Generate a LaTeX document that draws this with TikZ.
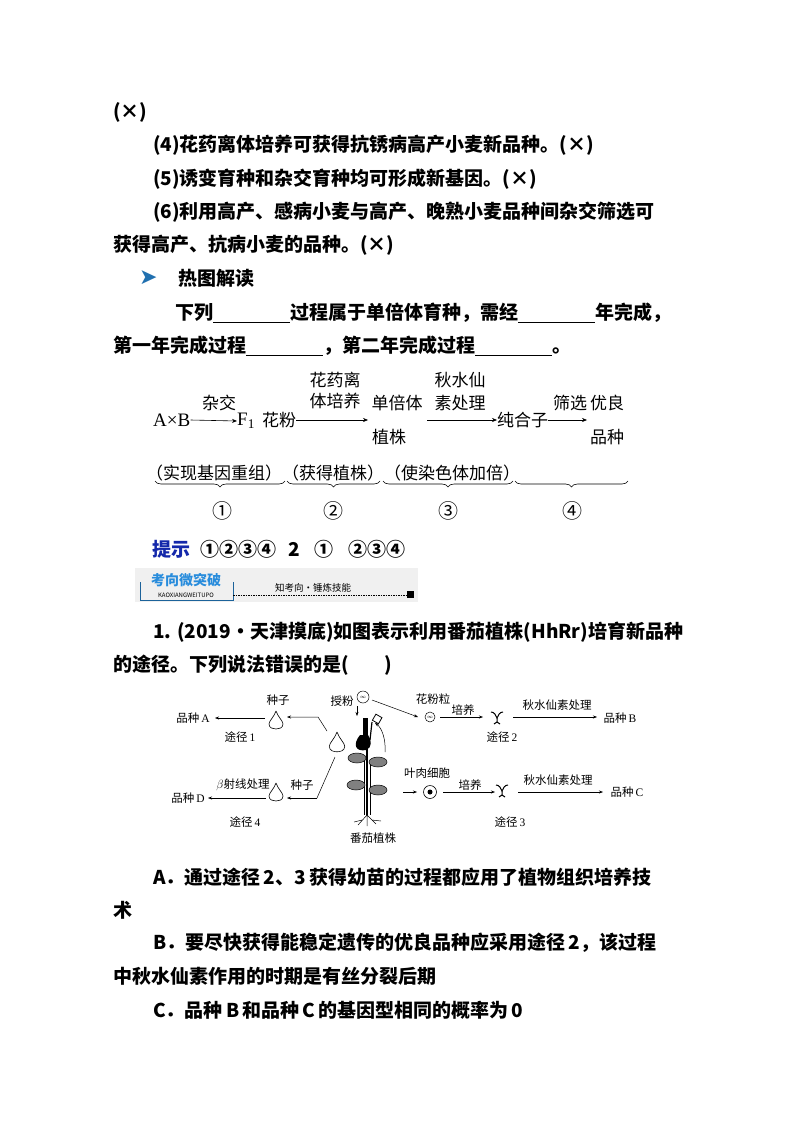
\documentclass[tikz,border=0pt]{standalone}
\usepackage{fontspec}
\setmainfont{Noto Sans CJK SC}
\newfontfamily\serifl{Liberation Serif}
\newfontfamily\dejavu{DejaVu Sans}
\usetikzlibrary{arrows.meta,decorations.pathreplacing}
\definecolor{tblue}{RGB}{20,40,170}
\definecolor{lblue}{RGB}{40,140,220}
\newcommand{\mydrop}[3]{\draw[line width=0.6pt,fill=white] (#1,#2-10*#3) .. controls (#1+2*#3,#2-4*#3) and (#1+7*#3,#2) .. (#1+7*#3,#2+3*#3) .. controls (#1+7*#3,#2+7*#3) and (#1+3*#3,#2+8*#3) .. (#1,#2+8*#3) .. controls (#1-3*#3,#2+8*#3) and (#1-7*#3,#2+7*#3) .. (#1-7*#3,#2+3*#3) .. controls (#1-7*#3,#2) and (#1-2*#3,#2-4*#3) .. (#1,#2-10*#3);}
\newcommand{\myseedl}[2]{\draw[line width=1pt] (#1-6,#2-5) .. controls (#1-3,#2-5) and (#1-1,#2-2) .. (#1,#2+1) .. controls (#1+1,#2-2) and (#1+3,#2-5) .. (#1+6,#2-5); \draw[line width=1pt] (#1,#2+1) -- (#1,#2+5) -- (#1-3,#2+7) (#1,#2+5) -- (#1+3,#2+7);}
\begin{document}
\begin{tikzpicture}[x=1pt,y=-1pt,
  body/.style={anchor=west,inner sep=0pt,font=\fontsize{19}{19}\selectfont\bfseries},
  dg/.style={inner sep=0pt,font=\fontsize{17}{17}\selectfont},
  fg/.style={inner sep=0pt,font=\fontsize{11.5}{11.5}\selectfont},
  arr/.style={-{Stealth[length=5pt,width=4pt]},line width=0.6pt},
  farr/.style={-{Stealth[length=4pt,width=3pt]},line width=0.5pt}]
\useasboundingbox[fill=white] (0,0) rectangle (794,1123);
% text lines
\node[body] (l0) at (113,112) {(×)};
\node[body] (l1) at (153,145) {(4)花药离体培养可获得抗锈病高产小麦新品种。(×)};
\node[body] (l2) at (153,179) {(5)诱变育种和杂交育种均可形成新基因。(×)};
\node[body] (l3) at (153,212) {(6)利用高产、感病小麦与高产、晚熟小麦品种间杂交筛选可};
\node[body] (l4) at (113,245) {获得高产、抗病小麦的品种。(×)};
\node[anchor=west,inner sep=0pt,text=lblue!80!black,font=\fontsize{22}{22}\selectfont\dejavu] (ar) at (139,278) {➤};
\node[body] (l5) at (178,278) {热图解读};
\node[body] (l6) at (175,313) {下列\rule[-3pt]{77pt}{0.7pt}过程属于单倍体育种，需经\rule[-3pt]{77pt}{0.7pt}年完成，};
\node[body] (l7) at (113,346) {第一年完成过程\rule[-3pt]{77pt}{0.7pt}，第二年完成过程\rule[-3pt]{77pt}{0.7pt}。};
% scheme
\node[dg,anchor=west,font=\fontsize{19}{19}\selectfont\serifl] (ab) at (153,420) {A×B};
\node[dg,anchor=west,font=\fontsize{19}{19}\selectfont\serifl] (f1) at (237,421) {F\textsubscript{1}};
\node[dg,anchor=west] (hf) at (262,420) {花粉};
\node[dg] (dbt) at (397,403) {单倍体};
\node[dg] (zz) at (389,437) {植株};
\node[dg,anchor=west] (chz) at (497,420) {纯合子};
\node[dg] (yl) at (607,403) {优良};
\node[dg] (pz) at (607,437) {品种};
\draw[arr] (ab.east) -- (f1.west);
\node[dg] at (219,403) {杂交};
\draw[arr] (hf.east) -- (368,420);
\node[dg] at (335,380) {花药离};
\node[dg] at (335,401) {体培养};
\draw[arr] (427,420) -- (chz.west);
\node[dg] at (460,380) {秋水仙};
\node[dg] at (460,403) {素处理};
\draw[arr] (chz.east) -- (587,420);
\node[dg] at (570,403) {筛选};
\node[dg,anchor=west] (p1) at (146,473) {（实现基因重组）（获得植株）（使染色体加倍）};
\draw[decorate,decoration={brace,mirror,amplitude=6pt},line width=0.6pt] (155,481) -- (285,481);
\draw[decorate,decoration={brace,mirror,amplitude=6pt},line width=0.6pt] (287,481) -- (380,481);
\draw[decorate,decoration={brace,mirror,amplitude=6pt},line width=0.6pt] (383,481) -- (513,481);
\draw[decorate,decoration={brace,mirror,amplitude=6pt},line width=0.6pt] (515,481) -- (628,481);
\node[dg,font=\fontsize{20}{20}\selectfont] (c1) at (222,511) {①};
\node[dg,font=\fontsize{20}{20}\selectfont] (c2) at (333,511) {②};
\node[dg,font=\fontsize{20}{20}\selectfont] (c3) at (448,511) {③};
\node[dg,font=\fontsize{20}{20}\selectfont] (c4) at (572,511) {④};
% hint
\node[body,text=tblue] (ts) at (152,549) {提示};
\node[body] (ta) at (200,549) {①②③④\hspace{12pt}2\hspace{15pt}①\hspace{15pt}②③④};
% banner
\fill[black!6] (135,568) rectangle (418,602);
\draw[lblue!70!black,line width=0.6pt] (140,582) -- (140,600) -- (233,600) -- (233,582);
\node[inner sep=1pt,fill=black!6,text=lblue,font=\fontsize{14}{14}\selectfont\bfseries] (bt) at (186,580) {考向微突破};
\node[inner sep=0pt,font=\fontsize{6}{6}\selectfont] (bk) at (186,595) {KAOXIANGWEITUPO};
\draw[dashed,line width=0.5pt,dash pattern=on 1.5pt off 1pt] (233,595) -- (407,595);
\fill (407,591) rectangle (414,598);
\node[inner sep=0pt,font=\fontsize{9.5}{9.5}\selectfont] (bz) at (313,588) {知考向·锤炼技能};
% question
\node[body] (q1) at (153,632) {1. (2019·天津摸底)如图表示利用番茄植株(HhRr)培育新品种};
\node[body] (q2) at (113,665) {的途径。下列说法错误的是(\hspace{36pt})};
% figure
\node[fg] (pA) at (193,718) {品种\,\serifl A};
\mydrop{276}{721}{1}
\node[fg] (zz1) at (278,700) {种子};
\node[fg] (tj1) at (240,737) {途径\,\serifl 1};
\draw[farr] (265,718) -- (215,718);
\mydrop{337}{743}{1.1}
\draw[farr] (327,731) -- (318,717) -- (287,717);
\draw[line width=0.5pt] (335,757) -- (317,798);
\draw[farr] (317,798) -- (287,798);
\mydrop{276}{793}{1}
\node[fg] (zz2) at (302,785) {种子};
\node[fg] (bs) at (243,785) {$\beta$射线处理};
\draw[farr] (266,798) -- (208,798);
\node[fg] (pD) at (188,798) {品种\,\serifl D};
\node[fg] (tj4) at (245,822) {途径\,\serifl 4};
% plant
\draw[line width=2pt] (367,748) -- (367,815);
\draw[line width=0.5pt] (364,760) -- (364,815) (370,760) -- (370,815);
\fill (363,718) rectangle (368,735);
\fill (360,735) .. controls (352,745) and (356,752) .. (366,750) .. controls (372,748) and (372,740) .. (368,735) -- cycle;
\fill (367,745) circle (3);
\draw[line width=1.2pt] (370,740) -- (372,722);
\draw[line width=0.8pt,fill=white,rotate around={-30:(376,720)}] (373,715) rectangle (380,722);
\foreach \lx/\ly in {357/758,378/762,356/785,378/790}{\draw[fill=black!50,line width=0.5pt] (\lx,\ly) ellipse (9 and 5);}
\draw[line width=0.5pt] (367,815) -- (358,825) (367,815) -- (376,824) (367,815) -- (367,826) (362,820) -- (354,822) (372,820) -- (381,821);
\node[fg] (fq) at (373,838) {番茄植株};
% pollination
\draw[line width=0.5pt] (363,697) circle (6);
\node[fg,font=\fontsize{7}{7}\selectfont] at (363,697) {$\scriptstyle\infty$};
\node[fg] (sf) at (342,701) {授粉};
\draw[farr] (357,706) -- (357,716);
\draw[farr] (372,700) -- (418,717);
\draw[line width=0.5pt] (430,717) circle (5);
\node[fg,font=\fontsize{6}{6}\selectfont] at (430,717) {$\scriptscriptstyle\infty$};
\node[fg] (hfl) at (433,699) {花粉粒};
\draw[farr] (440,717) -- (483,717);
\node[fg] (py1) at (463,710) {培养};
\myseedl{497}{717}
\node[fg] (tj2) at (502,737) {途径\,\serifl 2};
\draw[farr] (513,717) -- (597,717);
\node[fg] (qs1) at (557,705) {秋水仙素处理};
\node[fg] (pB) at (620,718) {品种\,\serifl B};
\draw[farr] (385,752) .. controls (386,740) and (382,728) .. (375,723);
% leaf cells
\node[fg] (yr) at (427,773) {叶肉细胞};
\draw[farr] (403,792) -- (417,792);
\draw[line width=0.6pt] (430,792) circle (6.5);
\fill (430,792) circle (2.5);
\draw[farr] (443,792) -- (495,792);
\node[fg] (py2) at (470,785) {培养};
\myseedl{502}{790}
\node[fg] (tj3) at (510,822) {途径\,\serifl 3};
\draw[farr] (518,792) -- (603,792);
\node[fg] (qs2) at (558,780) {秋水仙素处理};
\node[fg] (pC) at (627,792) {品种\,\serifl C};
% options
\node[body] (oa) at (153,877) {A．通过途径\,2、3\,获得幼苗的过程都应用了植物组织培养技};
\node[body] (oa2) at (113,910) {术};
\node[body] (ob) at (153,943) {B．要尽快获得能稳定遗传的优良品种应采用途径\,2，该过程};
\node[body] (ob2) at (113,976) {中秋水仙素作用的时期是有丝分裂后期};
\node[body] (oc) at (153,1010) {C．品种\,B\,和品种\,C\,的基因型相同的概率为\,0};
\end{tikzpicture}
\end{document}
